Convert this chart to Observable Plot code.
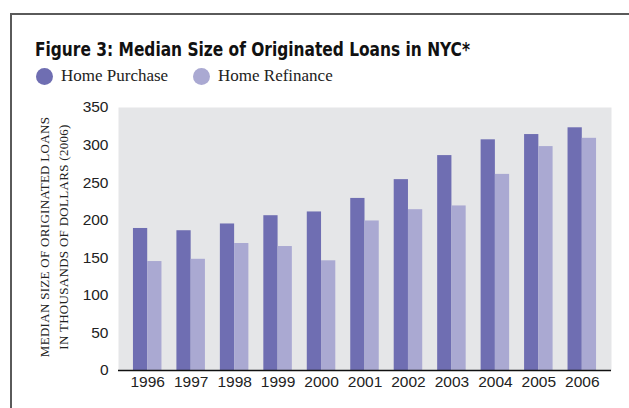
<!DOCTYPE html>
<html>
<head>
<meta charset="utf-8">
<script src="https://cdn.jsdelivr.net/npm/d3@7"></script>
<script src="https://cdn.jsdelivr.net/npm/@observablehq/plot@0.6"></script>
<style>
  html, body { margin: 0; padding: 0; background: #fff; width: 629px; height: 408px; overflow: hidden; }
  #frame { position: absolute; left: 10px; top: 13px; width: 700px; height: 500px;
           border-top: 2px solid #5a5a5a; border-left: 2px solid #5a5a5a; box-sizing: border-box; }
  #title { position: absolute; left: 35px; top: 38px; font-family: "Liberation Sans Narrow", "DejaVu Sans Condensed", "Liberation Sans", sans-serif;
           font-stretch: condensed; font-weight: bold; font-size: 19px; line-height: 22px; color: #111; white-space: nowrap; transform-origin: 0 0; }
  #legend { position: absolute; left: 36px; top: 66px; font-family: "Liberation Serif", "DejaVu Serif", serif; font-size: 17px; color: #222; white-space: nowrap; }
  .item { position: absolute; top: 0; height: 20px; line-height: 20px; }
  .sw { position: absolute; top: 1.5px; width: 17px; height: 17px; border-radius: 50%; }
  .lab { position: absolute; left: 25px; top: 0; }
  #chart { position: absolute; left: 0; top: 92px; }
  #chart g[aria-label="text"] text { letter-spacing: 0.3px; }
</style>
</head>
<body>
<div id="frame"></div>
<div id="title"></div>
<div id="legend"></div>
<div id="chart"></div>
<script>
const title = "Figure 3: Median Size of Originated Loans in NYC*";
const years = ["1996","1997","1998","1999","2000","2001","2002","2003","2004","2005","2006"];
const purchase = [189, 186, 195, 206, 211, 229, 254, 286, 307, 314, 323];
const refinance = [145, 148, 169, 165, 146, 199, 214, 219, 261, 298, 309];
const seriesNames = ["Home Purchase", "Home Refinance"];
const seriesColors = ["#6f6eb2", "#aaa9d2"];
const yTicks = [0, 50, 100, 150, 200, 250, 300, 350];
const yLabel = ["MEDIAN SIZE OF ORIGINATED LOANS", "IN THOUSANDS OF DOLLARS (2006)"];

const table = years.map((y, i) => ({year: y, purchase: purchase[i], refinance: refinance[i]}));

const titleEl = document.getElementById("title");
titleEl.textContent = title;
const tw = titleEl.getBoundingClientRect().width;
titleEl.style.transform = `scaleX(${435 / tw})`;

const legend = document.getElementById("legend");
const legendX = [0, 157];
seriesNames.forEach((name, i) => {
  const item = document.createElement("div");
  item.className = "item";
  item.style.left = legendX[i] + "px";
  item.innerHTML = `<div class="sw" style="background:${seriesColors[i]}"></div><div class="lab">${name}</div>`;
  legend.appendChild(item);
});

const W = 629, H = 316, ML = 118, MR = 18, MT = 15, MB = 38;
const pad = 0.344;
const step = (W - ML - MR) / (years.length - pad + 2 * pad);
const half = step * (1 - pad) / 2;

const chart = Plot.plot({
  width: W, height: H,
  marginLeft: ML, marginRight: MR, marginTop: MT, marginBottom: MB,
  style: {fontFamily: "'Liberation Sans', Arial, sans-serif", fontSize: "15.5px", color: "#222", background: "transparent"},
  x: {type: "band", domain: years, padding: pad, round: false, label: null, tickSize: 0, tickPadding: 5},
  y: {domain: [0, 350], ticks: yTicks, label: null, tickSize: 0, tickPadding: 10},
  marks: [
    Plot.frame({fill: "#e5e6e8", stroke: null}),
    Plot.barY(table, {x: "year", y: "purchase", fill: seriesColors[0], insetLeft: 0, insetRight: half}),
    Plot.barY(table, {x: "year", y: "refinance", fill: seriesColors[1], insetLeft: half, insetRight: 0}),
    Plot.ruleY([0], {stroke: "#111", strokeWidth: 1.5}),
    Plot.text([yLabel.join("\n")], {text: d => d, frameAnchor: "left", textAnchor: "middle", rotate: -90, dx: -66, dy: -2,
      lineHeight: 1.5, fontFamily: "'Liberation Serif', 'DejaVu Serif', serif", fontSize: 13, fill: "#222"})
  ]
});
document.getElementById("chart").appendChild(chart);
</script>
</body>
</html>
